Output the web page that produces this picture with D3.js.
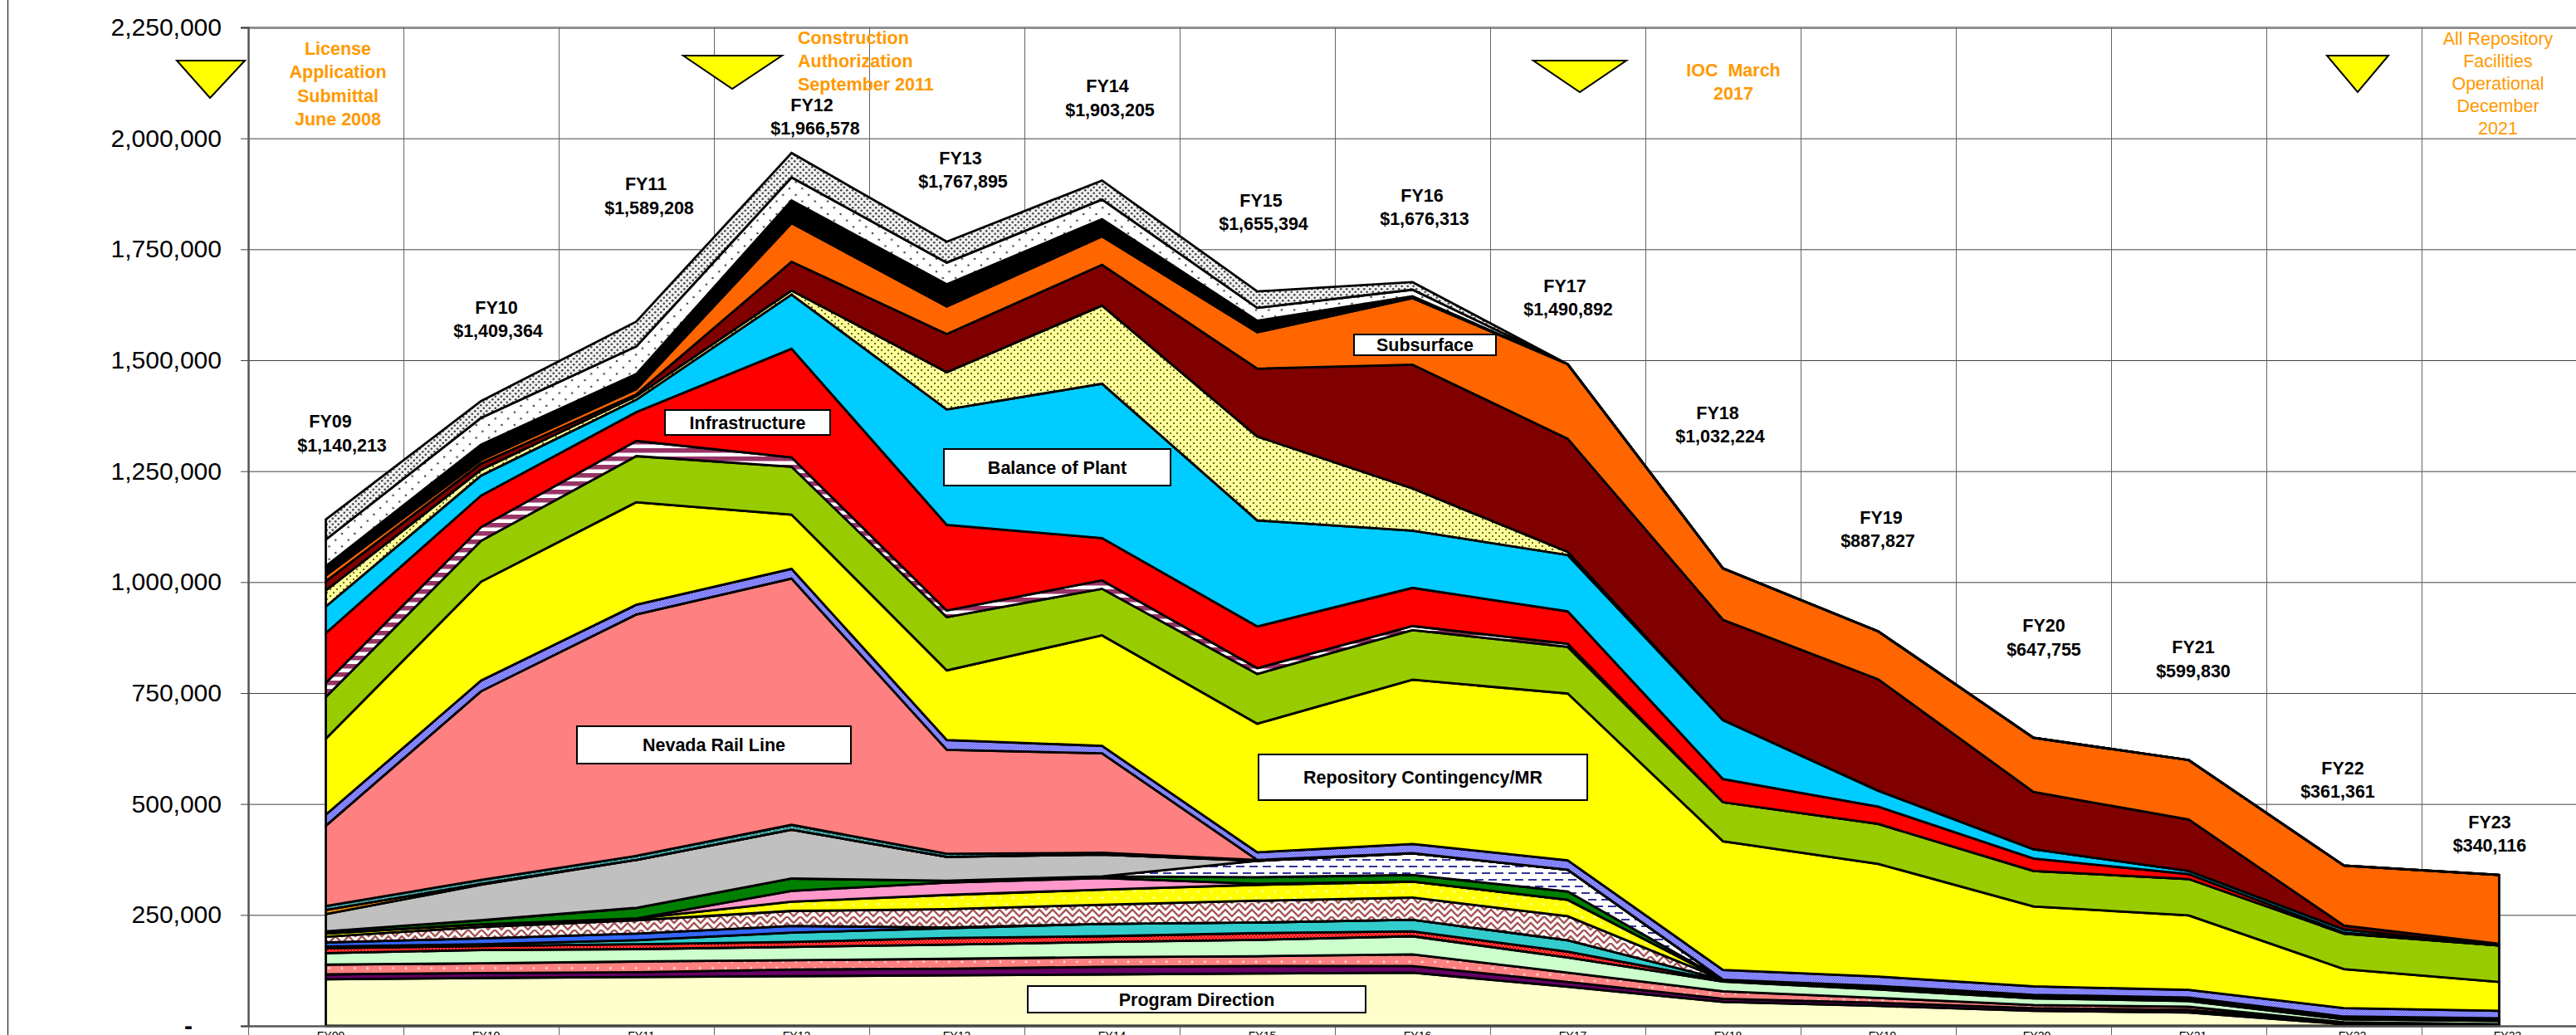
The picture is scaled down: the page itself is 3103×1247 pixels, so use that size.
<!DOCTYPE html>
<html>
<head>
<meta charset="utf-8">
<script src="https://cdn.jsdelivr.net/npm/d3@7"></script>
<style>
    html, body { margin: 0; padding: 0; background: #fff; overflow: hidden; }
    svg { display: block; }
    text { font-family: "Liberation Sans", Arial, sans-serif; }
</style>
</head>
<body>
<div id="chart"></div>
<script>
// categories and axis
const fiscalYears = ["FY09","FY10","FY11","FY12","FY13","FY14","FY15","FY16","FY17","FY18","FY19","FY20","FY21","FY22","FY23"];
const yTicks = [0, 250000, 500000, 750000, 1000000, 1250000, 1500000, 1750000, 2000000, 2250000];
const fyTotals = [1140213, 1409364, 1589208, 1966578, 1767895, 1903205, 1655394, 1676313, 1490892, 1032224, 887827, 647755, 599830, 361361, 340116];

// series values in $K, bottom layer first
const programDirection = [105,108,110,112,114,116,118,120,88,54,45,34,30,4,2];
const purpleBand = [11,11,11,15,15,17,17,15,11,7,7,6,6,2,0];
const salmonDots = [22,22,24,21,22,22,22,26,21,17,11,7,7,2,2];
const paleGreen = [26,30,28,30,32,34,37,41,34,22,19,15,13,7,7];
const redSpeck = [11,9,11,11,15,13,15,11,13,2,2,2,2,2,2];
const tealBand = [4,4,9,21,22,28,24,26,26,2,2,2,2,2,2];
const blueBand = [9,13,15,15,2,0,0,0,0,0,0,0,0,0,0];
const zigzagBand = [13,26,30,34,41,43,49,50,54,0,2,2,2,2,2];
const yellowDots = [7,6,4,21,32,34,36,36,37,0,2,2,2,0,0];
const pinkBand = [1,0,0,24,28,26,2,0,0,0,0,0,0,0,0];
const greenBand = [4,9,24,28,4,4,15,15,19,0,0,0,0,0,0];
const dashedBand = [0,0,0,0,0,0,37,49,49,0,0,0,0,0,0];
const grayBand = [39,80,108,110,54,49,0,0,0,0,0,0,0,0,0];
const thinOrange = [9,2,0,0,0,0,0,0,0,0,0,0,0,0,0];
const thinTeal = [9,9,9,11,7,4,2,0,0,0,0,0,0,0,0];
const nevadaRail = [181,425,544,555,234,224,0,0,0,0,0,0,0,0,0];
const periwinkle = [25,24,22,22,22,17,17,21,21,22,21,19,17,19,17];
const repoContingency = [171,223,231,122,157,249,290,370,376,290,254,180,168,88,65];
const limeBand = [94,92,104,108,120,105,112,112,105,88,90,80,82,80,82];
const mauveStripes = [32,31,34,21,15,19,13,9,7,0,0,0,0,0,0];
const infrastructure = [112,71,65,245,193,95,94,86,73,52,39,28,11,2,0];
const balanceOfPlant = [60,45,28,122,260,348,239,129,127,133,36,21,7,7,0];
const paleYellowDots = [36,13,8,9,84,176,189,95,7,0,0,0,0,0,0];
const maroonBand = [21,14,4,65,86,92,153,279,255,226,251,129,116,9,4];
const subsurface = [13,8,12,87,62,64,82,150,168,116,108,122,134,135,155];
const blackBand = [21,35,34,51,50,39,26,4,0,0,0,0,0,0,0];
const whiteDots = [60,60,62,52,49,44,29,15,0,0,0,0,0,0,0];
const grayDots = [45,38,56,55,47,43,37,17,0,0,0,0,0,0,0];

const seriesValues = {programDirection, purpleBand, salmonDots, paleGreen, redSpeck, tealBand, blueBand, zigzagBand,
    yellowDots, pinkBand, greenBand, dashedBand, grayBand, thinOrange, thinTeal, nevadaRail, periwinkle, repoContingency,
    limeBand, mauveStripes, infrastructure, balanceOfPlant, paleYellowDots, maroonBand, subsurface, blackBand, whiteDots, grayDots};

// fills, by series name
const layerFills = {
    programDirection: "#FFFFCC", purpleBand: "#660066", salmonDots: "url(#salmonDots)", paleGreen: "#CCFFCC",
    redSpeck: "url(#redSpeck)", tealBand: "#33CCCC", blueBand: "#3366FF", zigzagBand: "url(#zigzag)",
    yellowDots: "url(#yellowDots)", pinkBand: "#FF99CC", greenBand: "#008000", dashedBand: "url(#dashes)",
    grayBand: "#C0C0C0", thinOrange: "#FF9900", thinTeal: "url(#tealDots)", nevadaRail: "#FF8080",
    periwinkle: "url(#periwinkle)", repoContingency: "#FFFF00", limeBand: "#99CC00", mauveStripes: "url(#mauve)",
    infrastructure: "#FF0000", balanceOfPlant: "#00CCFF", paleYellowDots: "url(#paleYellowDots)", maroonBand: "#800000",
    subsurface: "#FF6600", blackBand: "#000000", whiteDots: "url(#whiteDots)", grayDots: "url(#grayDots)"
};

// annotation placement: [fy centre x, value centre x, fy baseline, value baseline]
const totalLabelLayout = [
    [398,412,515,544],[598,600,378,406],[778,782,229,258],[978,982,134,162],[1157,1160,198,226],
    [1334,1337,111,140],[1519,1522,249,277],[1713,1716,243,271],[1885,1889,352,380],[2069,2072,505,533],
    [2266,2262,631,659],[2462,2462,761,790],[2642,2642,787,816],[2822,2816,933,961],[2999,2999,998,1026]
];
// the x labels do not sit quite on the band centres in the original
const xLabelNudge = [6,6,6,6,12,12,6,6,6,6,5,4,5,10,10];
const boxLabels = [
    {text: "Infrastructure", box: [801,494,199,30]},
    {text: "Balance of Plant", box: [1137,541,273,44]},
    {text: "Subsurface", box: [1631,403,171,25]},
    {text: "Nevada Rail Line", box: [695,875,330,45]},
    {text: "Repository Contingency/MR", box: [1516,909,396,55]},
    {text: "Program Direction", box: [1238,1188,407,32]}
];
const milestones = [
    {tri: [213,295,253,73,118], lines: ["License","Application","Submittal","June 2008"], x: 407, y: 66, anchor: "middle", weight: "bold", gap: 28.3},
    {tri: [823,942,882,67,107], lines: ["Construction","Authorization","September 2011"], x: 961, y: 53, anchor: "start", weight: "bold", gap: 28.2},
    {tri: [1847,1959,1903,73,111], lines: ["IOC  March","2017"], x: 2088, y: 92, anchor: "middle", weight: "bold", gap: 28},
    {tri: [2803,2877,2840,67,111], lines: ["All Repository","Facilities","Operational","December","2021"], x: 3009, y: 54, anchor: "middle", weight: "normal", gap: 27}
];

class StackedCostChart {
    constructor(parentContainer) {
        this.parentContainer = parentContainer;
        this.initVis();
    }

    initVis() {
        let vis = this;

        vis.width = 3103;
        vis.height = 1247;
        vis.plot = {left: 299, right: 3104, top: 33, bottom: 1236};

        vis.svg = d3.select(`#${vis.parentContainer}`)
            .append("svg")
            .attr("width", vis.width)
            .attr("height", vis.height);

        vis.x = d3.scaleBand().domain(fiscalYears).range([vis.plot.left, vis.plot.right]).padding(0);
        vis.y = d3.scaleLinear().domain([0, 2250000]).range([vis.plot.bottom, vis.plot.top]);

        vis.createPatterns();
        vis.wrangleData();
    }

    // small helper, all the hatched fills are tiles with a background
    addPattern(id, w, h, bg) {
        let tile = this.svg.select("defs").append("pattern")
            .attr("id", id)
            .attr("patternUnits", "userSpaceOnUse")
            .attr("width", w)
            .attr("height", h);
        tile.append("rect").attr("width", w).attr("height", h).attr("fill", bg);
        return tile;
    }

    addDots(id, w, h, bg, color, r) {
        let tile = this.addPattern(id, w, h, bg);
        [[w / 4, h / 4], [3 * w / 4, 3 * h / 4]].forEach(p => {
            tile.append("circle").attr("cx", p[0]).attr("cy", p[1]).attr("r", r).attr("fill", color);
        });
    }

    createPatterns() {
        let vis = this;
        vis.svg.append("defs");

        vis.addDots("salmonDots", 15.4, 15.4, "#FF8080", "#FFE0E0", 1.4);
        vis.addDots("yellowDots", 15.4, 15.4, "#FFFF00", "#FFFFD0", 1.4);
        vis.addDots("tealDots", 8, 4, "#339999", "#DDFFFF", 0.8);
        vis.addDots("whiteDots", 15.4, 15.4, "#FFFFFF", "#444444", 1.3);
        vis.addDots("paleYellowDots", 8, 8, "#FFFF99", "#333300", 1);
        vis.addDots("grayDots", 7, 7, "#F0F0F0", "#444444", 1.3);
        vis.addDots("redSpeck", 4, 4, "#FF0000", "#FFC0C0", 0.8);
        vis.addDots("periwinkle", 3, 3, "#A0A0FF", "#4444F0", 0.7);

        let zig = vis.addPattern("zigzag", 16, 16, "#FFFFFF");
        ["M-2 6 L4 0 L12 8 L18 2", "M-2 14 L4 8 L12 16 L18 10", "M-2 -2 L4 -8 L12 0 L18 -6"].forEach(d => {
            zig.append("path").attr("d", d).attr("fill", "none").attr("stroke", "#A65353").attr("stroke-width", 2.4);
        });

        let dashes = vis.addPattern("dashes", 16, 16, "#FFFFFF");
        dashes.append("rect").attr("x", 1).attr("y", 3).attr("width", 10).attr("height", 2).attr("fill", "#333399");
        dashes.append("rect").attr("x", 9).attr("y", 11).attr("width", 10).attr("height", 2).attr("fill", "#333399");
        dashes.append("rect").attr("x", -7).attr("y", 11).attr("width", 10).attr("height", 2).attr("fill", "#333399");

        let mauve = vis.addPattern("mauve", 10, 10, "#FFFFFF");
        mauve.append("rect").attr("width", 10).attr("height", 5.5).attr("fill", "#993366");
    }

    wrangleData() {
        let vis = this;

        vis.keys = Object.keys(seriesValues);
        vis.table = fiscalYears.map((fy, i) => {
            let row = {fy: fy};
            vis.keys.forEach(k => { row[k] = seriesValues[k][i] * 1000; });
            return row;
        });
        vis.stacked = d3.stack().keys(vis.keys)(vis.table);

        vis.updateVis();
    }

    updateVis() {
        let vis = this;
        vis.drawGrid();
        vis.drawAreas();
        vis.drawAxes();
        vis.drawAnnotations();
    }

    drawGrid() {
        let vis = this;
        const plotWidth = vis.plot.right - vis.plot.left;

        // horizontal gridlines
        let grid = vis.svg.append("g")
            .attr("transform", `translate(${vis.plot.left},0)`)
            .call(d3.axisLeft(vis.y).tickValues(yTicks).tickSize(-plotWidth).tickFormat(""));
        grid.select(".domain").remove();
        grid.selectAll("line").attr("stroke", "#404040").attr("stroke-width", 1);
        grid.selectAll(".tick")
            .filter(d => d === 2250000)
            .select("line")
            .attr("stroke", "#909090")
            .attr("stroke-width", 3);

        // vertical gridlines sit on the band edges and run on down through the axis
        let edges = fiscalYears.map(fy => vis.x(fy)).concat([vis.plot.right]);
        vis.svg.append("g").selectAll("line")
            .data(edges)
            .join("line")
            .attr("x1", d => d + 0.5)
            .attr("x2", d => d + 0.5)
            .attr("y1", vis.plot.top)
            .attr("y2", vis.height)
            .attr("stroke", "#666666")
            .attr("stroke-width", 1);

        // thin frame line at the far left
        vis.svg.append("line")
            .attr("x1", 9.5).attr("x2", 9.5)
            .attr("y1", 0).attr("y2", vis.height)
            .attr("stroke", "#222222")
            .attr("stroke-width", 1.2);
    }

    drawAreas() {
        let vis = this;

        const area = d3.area()
            .x(d => vis.x(d.data.fy) + vis.x.bandwidth() / 2)
            .y0(d => vis.y(d[0]))
            .y1(d => vis.y(d[1]));

        vis.svg.append("g").selectAll("path")
            .data(vis.stacked)
            .join("path")
            .attr("d", area)
            .attr("fill", d => layerFills[d.key])
            .attr("stroke", "#000000")
            .attr("stroke-width", 2.8)
            .attr("stroke-linejoin", "miter");
    }

    drawAxes() {
        let vis = this;

        let yAxis = vis.svg.append("g")
            .attr("transform", `translate(${vis.plot.left},0)`)
            .call(d3.axisLeft(vis.y)
                .tickValues(yTicks)
                .tickSize(9)
                .tickPadding(23)
                .tickFormat(d => d === 0 ? "-" : d3.format(",")(d)));
        yAxis.select(".domain").attr("stroke", "#555555").attr("stroke-width", 2.5);
        yAxis.selectAll("line").attr("stroke", "#404040");
        yAxis.selectAll("text")
            .attr("fill", "#000000")
            .style("font-family", '"Liberation Sans", Arial, sans-serif')
            .style("font-size", "30px");
        yAxis.selectAll(".tick")
            .filter(d => d === 0)
            .select("text")
            .attr("x", -67)
            .style("font-weight", "bold");

        let xAxis = vis.svg.append("g")
            .attr("transform", `translate(0,${vis.plot.bottom})`)
            .call(d3.axisBottom(vis.x).tickSize(0).tickPadding(7));
        xAxis.select(".domain").attr("stroke", "#555555").attr("stroke-width", 2.5);
        xAxis.selectAll("text")
            .attr("fill", "#000000")
            .attr("dx", (d, i) => xLabelNudge[i])
            .style("font-family", '"Liberation Sans", Arial, sans-serif')
            .style("font-size", "14px");
    }

    drawAnnotations() {
        let vis = this;

        // FY name and total over each column
        let totals = vis.svg.append("g").attr("font-weight", "bold").attr("font-size", "21.5px").attr("text-anchor", "middle");
        fiscalYears.forEach((fy, i) => {
            const p = totalLabelLayout[i];
            totals.append("text").attr("x", p[0]).attr("y", p[2]).text(fy);
            totals.append("text").attr("x", p[1]).attr("y", p[3]).text("$" + d3.format(",")(fyTotals[i]));
        });

        // white name boxes
        boxLabels.forEach(b => {
            vis.svg.append("rect")
                .attr("x", b.box[0]).attr("y", b.box[1])
                .attr("width", b.box[2]).attr("height", b.box[3])
                .attr("fill", "#FFFFFF")
                .attr("stroke", "#000000")
                .attr("stroke-width", 2);
            vis.svg.append("text")
                .attr("x", b.box[0] + b.box[2] / 2)
                .attr("y", b.box[1] + b.box[3] / 2)
                .attr("dy", "0.36em")
                .attr("text-anchor", "middle")
                .attr("font-weight", "bold")
                .attr("font-size", "21.5px")
                .text(b.text);
        });

        // milestones: triangle plus orange note
        milestones.forEach(m => {
            const t = m.tri;
            vis.svg.append("path")
                .attr("d", `M${t[0]},${t[3]}L${t[1]},${t[3]}L${t[2]},${t[4]}Z`)
                .attr("fill", "#FFFF00")
                .attr("stroke", "#000000")
                .attr("stroke-width", 2);
            m.lines.forEach((line, i) => {
                vis.svg.append("text")
                    .attr("x", m.x)
                    .attr("y", m.y + i * m.gap)
                    .attr("text-anchor", m.anchor)
                    .attr("font-weight", m.weight)
                    .attr("font-size", "21.5px")
                    .attr("fill", "#FF9900")
                    .style("white-space", "pre")
                    .text(line);
            });
        });
    }
}

new StackedCostChart("chart");
</script>
</body>
</html>
